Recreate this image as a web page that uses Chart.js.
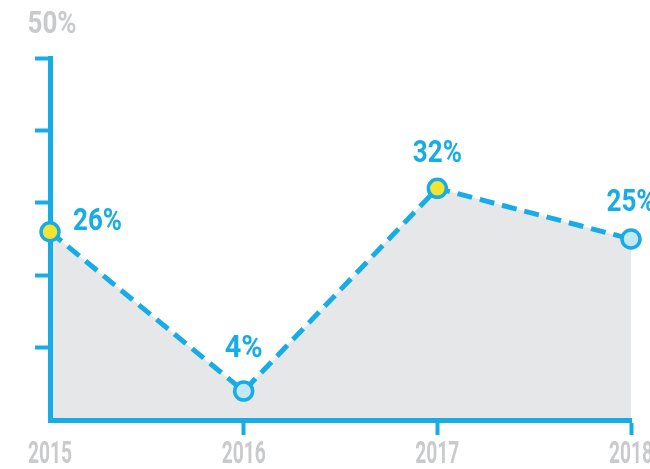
<!DOCTYPE html>
<html>
<head>
<meta charset="utf-8">
<script src="https://cdn.jsdelivr.net/npm/chart.js@4"></script>
<style>
  html, body { margin: 0; padding: 0; background: #fff; }
  #wrap { width: 650px; height: 469px; position: relative; }
</style>
</head>
<body>
<div id="wrap"><canvas id="chart"></canvas></div>
<script>
// dati
const years = ["2015", "2016", "2017", "2018"];
const values = [26, 4, 32, 25];
const valueLabels = ["26%", "4%", "32%", "25%"];
const topLabel = "50%";

const BLUE = "#17ace6";
const GRAY_TEXT = "#c9cacc";
const FILL = "#e6e7e8";
const YELLOW = "#f2e530";
const LIGHT_BLUE = "#c2e8f8";
const FONT = 'Roboto, "DejaVu Sans Condensed", sans-serif';

// larghezza voluta del testo stretto (cifre strette, % larga)
function targetWidth(s) {
  let w = 0;
  for (const ch of s) w += ch === "%" ? 27 : 11;
  return w;
}

// scrive un testo compresso in orizzontale
function narrowText(ctx, s, x, y, align) {
  const w = ctx.measureText(s).width;
  const k = Math.min(1, targetWidth(s) / w);
  ctx.save();
  ctx.translate(x, y);
  ctx.scale(k, 1);
  ctx.textAlign = align;
  ctx.fillText(s, 0, 0);
  ctx.restore();
}

const textPlugin = {
  id: "texts",
  afterDatasetsDraw(chart) {
    const ctx = chart.ctx;
    const x = chart.scales.x;
    const y = chart.scales.y;
    const meta = chart.getDatasetMeta(0);
    ctx.save();
    ctx.textBaseline = "middle";
    ctx.font = "bold 32px " + FONT;

    // etichette dei valori
    ctx.fillStyle = BLUE;
    const lift = [0, -42, -34, -36];
    meta.data.forEach((pt, i) => {
      if (i === 0) narrowText(ctx, valueLabels[i], pt.x + 23, pt.y - 10, "left");
      else narrowText(ctx, valueLabels[i], pt.x, pt.y + lift[i], "center");
    });

    // 50% in alto
    ctx.fillStyle = GRAY_TEXT;
    narrowText(ctx, topLabel, x.left + 2, y.getPixelForValue(50) - 33, "center");

    // anni sotto l'asse
    years.forEach((yr, i) => {
      narrowText(ctx, yr, x.getPixelForValue(i), 455, "center");
    });
    ctx.restore();
  }
};

new Chart(document.getElementById("chart"), {
  type: "line",
  data: {
    labels: years,
    datasets: [{
      data: values,
      borderColor: BLUE,
      borderWidth: 5,
      borderDash: [15, 8],
      backgroundColor: FILL,
      fill: "origin",
      tension: 0,
      clip: false,
      pointRadius: 9,
      pointHoverRadius: 9,
      pointBorderWidth: 3.5,
      pointBorderColor: BLUE,
      pointBackgroundColor: [YELLOW, LIGHT_BLUE, YELLOW, LIGHT_BLUE]
    }]
  },
  options: {
    responsive: true,
    maintainAspectRatio: false,
    animation: false,
    layout: { padding: { left: 35, right: 19, top: 58, bottom: 34 } },
    plugins: {
      legend: { display: false },
      tooltip: { enabled: false },
      filler: { drawTime: "beforeDraw" }
    },
    scales: {
      x: {
        offset: false,
        ticks: { display: false },
        grid: {
          drawOnChartArea: false,
          tickLength: 15,
          tickWidth: 4,
          color: (c) => c.index === 0 ? "rgba(0,0,0,0)" : BLUE
        },
        border: { color: BLUE, width: 5 }
      },
      y: {
        min: 0,
        max: 50,
        ticks: { display: false, stepSize: 10 },
        grid: {
          drawOnChartArea: false,
          tickLength: 15,
          tickWidth: 4,
          color: (c) => c.tick && c.tick.value === 0 ? "rgba(0,0,0,0)" : BLUE
        },
        border: { color: BLUE, width: 5 }
      }
    }
  },
  plugins: [textPlugin]
});
</script>
</body>
</html>
